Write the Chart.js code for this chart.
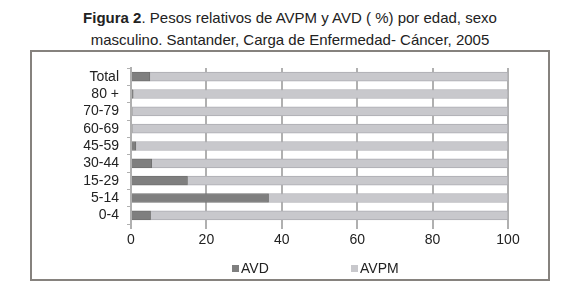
<!DOCTYPE html>
<html><head><meta charset="utf-8">
<script src="https://cdn.jsdelivr.net/npm/chart.js@4/dist/chart.umd.min.js"></script>
<style>
html,body{margin:0;padding:0;background:#fff;}
#wrap{position:relative;width:580px;height:297px;overflow:hidden;font-family:"Liberation Sans",Arial,sans-serif;}
#title{position:absolute;left:0;top:7px;width:580px;text-align:center;font-size:15px;line-height:22px;color:#222;}
#frame{position:absolute;left:30px;top:50px;width:516px;height:227px;border:2px solid #86827e;}
#legend{position:absolute;top:260px;left:0;width:580px;font-size:14px;color:#222;}
#legend span{position:absolute;}
.sw{display:inline-block;width:7px;height:7px;margin-right:2px;vertical-align:1px;}
canvas{position:absolute;left:0;top:0;}
</style></head>
<body><div id="wrap">
<div id="frame"></div>
<div id="title"><b>Figura 2</b>. Pesos relativos de AVPM y AVD ( %) por edad, sexo<br>masculino. Santander, Carga de Enfermedad- Cáncer, 2005</div>
<canvas id="c" width="580" height="297"></canvas>
<div id="legend"><span style="left:232px"><i class="sw" style="background:#7f7f7f"></i>AVD</span><span style="left:351px"><i class="sw" style="background:#c8c8cc"></i>AVPM</span></div>
</div>
<script>
const categories = ["Total","80 +","70-79","60-69","45-59","30-44","15-29","5-14","0-4"];
const avd  = [5, 0.6, 0.3, 0.3, 1.3, 5.5, 15, 36.5, 5.2];
const avpm = [95, 99.4, 99.7, 99.7, 98.7, 94.5, 85, 63.5, 94.8];
const xTicks = [0,20,40,60,80,100];

new Chart(document.getElementById('c'), {
  type: 'bar',
  data: {
    labels: categories,
    datasets: [
      {label:'AVD', data: avd, backgroundColor:'#7f7f7f', borderColor:'#707070', borderWidth:1, barThickness:9},
      {label:'AVPM', data: avpm, backgroundColor:'#c8c8cc', borderColor:'#adadb2', borderWidth:1, barThickness:9}
    ]
  },
  options: {
    indexAxis: 'y',
    responsive: false,
    animation: false,
    layout: {padding: {left: 30, right: 72, top: 68, bottom: 49}},
    plugins: {legend: {display: false}, title: {display: false}, tooltip: {enabled: false}},
    scales: {
      x: {
        stacked: true, min: 0, max: 100,
        afterBuildTicks: s => { s.ticks = xTicks.map(v => ({value: v})); },
        afterFit: s => { s.height = 24; },
        grid: {color: '#b0b0b0', lineWidth: 2, tickLength: 5, drawTicks: true},
        border: {display: false},
        ticks: {color: '#222', font: {family: 'Liberation Sans', size: 14}, padding: 3}
      },
      y: {
        stacked: true,
        afterFit: s => { s.width = 101; },
        grid: {display: true, drawOnChartArea: false, offset: true, color: '#b0b0b0', tickLength: 4},
        border: {display: true, color: '#b0b0b0', width: 2},
        ticks: {color: '#222', font: {family: 'Liberation Sans', size: 14}, padding: 8, autoSkip: false}
      }
    }
  }
});
</script>
</body></html>
